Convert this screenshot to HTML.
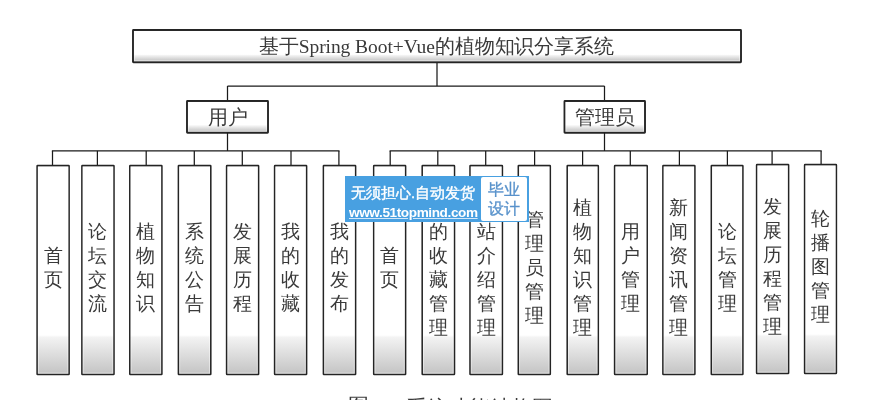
<!DOCTYPE html>
<html><head><meta charset="utf-8"><style>
html,body{margin:0;padding:0;background:#fff;width:875px;height:400px;overflow:hidden}
svg{position:absolute;left:0;top:0;will-change:transform}
.t{font-family:"Liberation Serif",serif;fill:#3a3a3a}
.wm{will-change:transform;position:absolute;left:345px;top:176.3px;width:183.5px;height:46px;background:#48a0e1}
.wm1{position:absolute;left:6px;top:6.5px;-webkit-text-stroke:0.4px #fff;color:#fff;font-family:"Liberation Sans",sans-serif;font-size:15px;font-weight:normal;white-space:nowrap;line-height:20px}
.wm2{position:absolute;left:4px;top:27.5px;text-underline-offset:1.2px;color:#fff;font-family:"Liberation Sans",sans-serif;font-size:13.6px;font-weight:bold;letter-spacing:-0.4px;text-decoration:underline;text-decoration-color:#d6e8f8;white-space:nowrap;line-height:18px}
.wmb{position:absolute;left:135.5px;top:1px;width:46px;height:44px;background:#fff;border-radius:2px;color:#5892cb;-webkit-text-stroke:0.3px #5892cb;font-family:"Liberation Sans",sans-serif;font-size:16px;line-height:19px;text-align:center;padding-top:3px;box-sizing:border-box}
</style></head><body>
<svg width="875" height="400" viewBox="0 0 875 400">
<defs><linearGradient id="g" x1="0" y1="0" x2="0" y2="1">
<stop offset="0" stop-color="#fff"/><stop offset="0.812" stop-color="#fff"/><stop offset="0.822" stop-color="#f3f3f3"/><stop offset="0.99" stop-color="#c6c6c6"/></linearGradient>
<linearGradient id="g2" x1="0" y1="0" x2="0" y2="1">
<stop offset="0" stop-color="#fff"/><stop offset="0.755" stop-color="#fff"/><stop offset="0.775" stop-color="#f6f6f6"/><stop offset="0.92" stop-color="#cecece"/><stop offset="1" stop-color="#cecece"/></linearGradient></defs>
<rect x="133" y="30" width="608.00" height="32.30" rx="0.5" fill="url(#g2)" stroke="#242424" stroke-width="1.9"/><rect x="134.45" y="31.45" width="605.10" height="29.40" fill="none" stroke="#fff" stroke-width="1" opacity="0.45"/>
<text x="436.5" y="52.6" font-size="19.5" letter-spacing="-0.07" text-anchor="middle" class="t">基于Spring Boot+Vue的植物知识分享系统</text>
<line x1="437" y1="63" x2="437" y2="86" stroke="#1a1a1a" stroke-width="1.25"/>
<line x1="227.5" y1="86" x2="604.5" y2="86" stroke="#1a1a1a" stroke-width="1.25"/>
<line x1="227.5" y1="86" x2="227.5" y2="101" stroke="#1a1a1a" stroke-width="1.25"/>
<line x1="604.5" y1="86" x2="604.5" y2="101" stroke="#1a1a1a" stroke-width="1.25"/>
<rect x="187" y="101" width="81.00" height="31.70" rx="0.5" fill="url(#g2)" stroke="#242424" stroke-width="1.9"/><rect x="188.45" y="102.45" width="78.10" height="28.80" fill="none" stroke="#fff" stroke-width="1" opacity="0.45"/>
<text x="227.5" y="123.6" font-size="19.5" text-anchor="middle" class="t">用户</text>
<rect x="564.5" y="101" width="80.50" height="31.70" rx="0.5" fill="url(#g2)" stroke="#242424" stroke-width="1.9"/><rect x="565.95" y="102.45" width="77.60" height="28.80" fill="none" stroke="#fff" stroke-width="1" opacity="0.45"/>
<text x="604.5" y="123.6" font-size="19.5" text-anchor="middle" class="t">管理员</text>
<line x1="227.5" y1="132.7" x2="227.5" y2="150.9" stroke="#1a1a1a" stroke-width="1.25"/>
<line x1="604.5" y1="132.7" x2="604.5" y2="150.9" stroke="#1a1a1a" stroke-width="1.25"/>
<line x1="51.875" y1="150.9" x2="339.525" y2="150.9" stroke="#1a1a1a" stroke-width="1.25"/>
<line x1="389.575" y1="150.9" x2="821.725" y2="150.9" stroke="#1a1a1a" stroke-width="1.25"/>
<line x1="52.5" y1="150.9" x2="52.5" y2="165.6" stroke="#1a1a1a" stroke-width="1.25"/>
<rect x="37.1" y="165.6" width="32.00" height="208.80" rx="0.5" fill="url(#g)" stroke="#242424" stroke-width="1.55"/><rect x="38.38" y="166.88" width="29.45" height="206.25" fill="none" stroke="#fff" stroke-width="1" opacity="0.45"/>
<text x="53.10" y="262.13" font-size="18.5" text-anchor="middle" class="t">首</text>
<text x="53.10" y="286.13" font-size="18.5" text-anchor="middle" class="t">页</text>
<line x1="97.4" y1="150.9" x2="97.4" y2="165.6" stroke="#1a1a1a" stroke-width="1.25"/>
<rect x="81.9" y="165.6" width="32.10" height="208.80" rx="0.5" fill="url(#g)" stroke="#242424" stroke-width="1.55"/><rect x="83.18" y="166.88" width="29.55" height="206.25" fill="none" stroke="#fff" stroke-width="1" opacity="0.45"/>
<text x="97.95" y="238.13" font-size="18.5" text-anchor="middle" class="t">论</text>
<text x="97.95" y="262.13" font-size="18.5" text-anchor="middle" class="t">坛</text>
<text x="97.95" y="286.13" font-size="18.5" text-anchor="middle" class="t">交</text>
<text x="97.95" y="310.13" font-size="18.5" text-anchor="middle" class="t">流</text>
<line x1="146.2" y1="150.9" x2="146.2" y2="165.6" stroke="#1a1a1a" stroke-width="1.25"/>
<rect x="129.8" y="165.6" width="32.10" height="208.80" rx="0.5" fill="url(#g)" stroke="#242424" stroke-width="1.55"/><rect x="131.08" y="166.88" width="29.55" height="206.25" fill="none" stroke="#fff" stroke-width="1" opacity="0.45"/>
<text x="145.85" y="238.13" font-size="18.5" text-anchor="middle" class="t">植</text>
<text x="145.85" y="262.13" font-size="18.5" text-anchor="middle" class="t">物</text>
<text x="145.85" y="286.13" font-size="18.5" text-anchor="middle" class="t">知</text>
<text x="145.85" y="310.13" font-size="18.5" text-anchor="middle" class="t">识</text>
<line x1="194.3" y1="150.9" x2="194.3" y2="165.6" stroke="#1a1a1a" stroke-width="1.25"/>
<rect x="178.4" y="165.6" width="32.40" height="208.80" rx="0.5" fill="url(#g)" stroke="#242424" stroke-width="1.55"/><rect x="179.68" y="166.88" width="29.85" height="206.25" fill="none" stroke="#fff" stroke-width="1" opacity="0.45"/>
<text x="194.60" y="238.13" font-size="18.5" text-anchor="middle" class="t">系</text>
<text x="194.60" y="262.13" font-size="18.5" text-anchor="middle" class="t">统</text>
<text x="194.60" y="286.13" font-size="18.5" text-anchor="middle" class="t">公</text>
<text x="194.60" y="310.13" font-size="18.5" text-anchor="middle" class="t">告</text>
<line x1="242.3" y1="150.9" x2="242.3" y2="165.6" stroke="#1a1a1a" stroke-width="1.25"/>
<rect x="226.6" y="165.6" width="32.00" height="208.80" rx="0.5" fill="url(#g)" stroke="#242424" stroke-width="1.55"/><rect x="227.88" y="166.88" width="29.45" height="206.25" fill="none" stroke="#fff" stroke-width="1" opacity="0.45"/>
<text x="242.60" y="238.13" font-size="18.5" text-anchor="middle" class="t">发</text>
<text x="242.60" y="262.13" font-size="18.5" text-anchor="middle" class="t">展</text>
<text x="242.60" y="286.13" font-size="18.5" text-anchor="middle" class="t">历</text>
<text x="242.60" y="310.13" font-size="18.5" text-anchor="middle" class="t">程</text>
<line x1="291.0" y1="150.9" x2="291.0" y2="165.6" stroke="#1a1a1a" stroke-width="1.25"/>
<rect x="274.6" y="165.6" width="32.00" height="208.80" rx="0.5" fill="url(#g)" stroke="#242424" stroke-width="1.55"/><rect x="275.88" y="166.88" width="29.45" height="206.25" fill="none" stroke="#fff" stroke-width="1" opacity="0.45"/>
<text x="290.60" y="238.13" font-size="18.5" text-anchor="middle" class="t">我</text>
<text x="290.60" y="262.13" font-size="18.5" text-anchor="middle" class="t">的</text>
<text x="290.60" y="286.13" font-size="18.5" text-anchor="middle" class="t">收</text>
<text x="290.60" y="310.13" font-size="18.5" text-anchor="middle" class="t">藏</text>
<line x1="338.9" y1="150.9" x2="338.9" y2="165.6" stroke="#1a1a1a" stroke-width="1.25"/>
<rect x="323.4" y="165.6" width="32.20" height="208.80" rx="0.5" fill="url(#g)" stroke="#242424" stroke-width="1.55"/><rect x="324.67" y="166.88" width="29.65" height="206.25" fill="none" stroke="#fff" stroke-width="1" opacity="0.45"/>
<text x="339.50" y="238.13" font-size="18.5" text-anchor="middle" class="t">我</text>
<text x="339.50" y="262.13" font-size="18.5" text-anchor="middle" class="t">的</text>
<text x="339.50" y="286.13" font-size="18.5" text-anchor="middle" class="t">发</text>
<text x="339.50" y="310.13" font-size="18.5" text-anchor="middle" class="t">布</text>
<line x1="390.2" y1="150.9" x2="390.2" y2="165.6" stroke="#1a1a1a" stroke-width="1.25"/>
<rect x="373.7" y="165.6" width="31.90" height="208.80" rx="0.5" fill="url(#g)" stroke="#242424" stroke-width="1.55"/><rect x="374.97" y="166.88" width="29.35" height="206.25" fill="none" stroke="#fff" stroke-width="1" opacity="0.45"/>
<text x="389.65" y="262.13" font-size="18.5" text-anchor="middle" class="t">首</text>
<text x="389.65" y="286.13" font-size="18.5" text-anchor="middle" class="t">页</text>
<line x1="437.8" y1="150.9" x2="437.8" y2="165.6" stroke="#1a1a1a" stroke-width="1.25"/>
<rect x="422.2" y="165.6" width="32.30" height="208.80" rx="0.5" fill="url(#g)" stroke="#242424" stroke-width="1.55"/><rect x="423.47" y="166.88" width="29.75" height="206.25" fill="none" stroke="#fff" stroke-width="1" opacity="0.45"/>
<text x="438.35" y="214.13" font-size="18.5" text-anchor="middle" class="t">我</text>
<text x="438.35" y="238.13" font-size="18.5" text-anchor="middle" class="t">的</text>
<text x="438.35" y="262.13" font-size="18.5" text-anchor="middle" class="t">收</text>
<text x="438.35" y="286.13" font-size="18.5" text-anchor="middle" class="t">藏</text>
<text x="438.35" y="310.13" font-size="18.5" text-anchor="middle" class="t">管</text>
<text x="438.35" y="334.13" font-size="18.5" text-anchor="middle" class="t">理</text>
<line x1="485.7" y1="150.9" x2="485.7" y2="165.6" stroke="#1a1a1a" stroke-width="1.25"/>
<rect x="470.0" y="165.6" width="32.40" height="208.80" rx="0.5" fill="url(#g)" stroke="#242424" stroke-width="1.55"/><rect x="471.27" y="166.88" width="29.85" height="206.25" fill="none" stroke="#fff" stroke-width="1" opacity="0.45"/>
<text x="486.20" y="214.13" font-size="18.5" text-anchor="middle" class="t">网</text>
<text x="486.20" y="238.13" font-size="18.5" text-anchor="middle" class="t">站</text>
<text x="486.20" y="262.13" font-size="18.5" text-anchor="middle" class="t">介</text>
<text x="486.20" y="286.13" font-size="18.5" text-anchor="middle" class="t">绍</text>
<text x="486.20" y="310.13" font-size="18.5" text-anchor="middle" class="t">管</text>
<text x="486.20" y="334.13" font-size="18.5" text-anchor="middle" class="t">理</text>
<line x1="534.6" y1="150.9" x2="534.6" y2="165.6" stroke="#1a1a1a" stroke-width="1.25"/>
<rect x="518.3" y="165.6" width="32.00" height="208.80" rx="0.5" fill="url(#g)" stroke="#242424" stroke-width="1.55"/><rect x="519.57" y="166.88" width="29.45" height="206.25" fill="none" stroke="#fff" stroke-width="1" opacity="0.45"/>
<text x="534.30" y="226.13" font-size="18.5" text-anchor="middle" class="t">管</text>
<text x="534.30" y="250.13" font-size="18.5" text-anchor="middle" class="t">理</text>
<text x="534.30" y="274.13" font-size="18.5" text-anchor="middle" class="t">员</text>
<text x="534.30" y="298.13" font-size="18.5" text-anchor="middle" class="t">管</text>
<text x="534.30" y="322.13" font-size="18.5" text-anchor="middle" class="t">理</text>
<line x1="582.6" y1="150.9" x2="582.6" y2="165.6" stroke="#1a1a1a" stroke-width="1.25"/>
<rect x="567.2" y="165.6" width="31.10" height="208.80" rx="0.5" fill="url(#g)" stroke="#242424" stroke-width="1.55"/><rect x="568.48" y="166.88" width="28.55" height="206.25" fill="none" stroke="#fff" stroke-width="1" opacity="0.45"/>
<text x="582.75" y="214.13" font-size="18.5" text-anchor="middle" class="t">植</text>
<text x="582.75" y="238.13" font-size="18.5" text-anchor="middle" class="t">物</text>
<text x="582.75" y="262.13" font-size="18.5" text-anchor="middle" class="t">知</text>
<text x="582.75" y="286.13" font-size="18.5" text-anchor="middle" class="t">识</text>
<text x="582.75" y="310.13" font-size="18.5" text-anchor="middle" class="t">管</text>
<text x="582.75" y="334.13" font-size="18.5" text-anchor="middle" class="t">理</text>
<line x1="630.3" y1="150.9" x2="630.3" y2="165.6" stroke="#1a1a1a" stroke-width="1.25"/>
<rect x="614.6" y="165.6" width="32.60" height="208.80" rx="0.5" fill="url(#g)" stroke="#242424" stroke-width="1.55"/><rect x="615.88" y="166.88" width="30.05" height="206.25" fill="none" stroke="#fff" stroke-width="1" opacity="0.45"/>
<text x="630.90" y="238.13" font-size="18.5" text-anchor="middle" class="t">用</text>
<text x="630.90" y="262.13" font-size="18.5" text-anchor="middle" class="t">户</text>
<text x="630.90" y="286.13" font-size="18.5" text-anchor="middle" class="t">管</text>
<text x="630.90" y="310.13" font-size="18.5" text-anchor="middle" class="t">理</text>
<line x1="679.4" y1="150.9" x2="679.4" y2="165.6" stroke="#1a1a1a" stroke-width="1.25"/>
<rect x="662.9" y="165.6" width="32.00" height="208.80" rx="0.5" fill="url(#g)" stroke="#242424" stroke-width="1.55"/><rect x="664.17" y="166.88" width="29.45" height="206.25" fill="none" stroke="#fff" stroke-width="1" opacity="0.45"/>
<text x="678.90" y="214.13" font-size="18.5" text-anchor="middle" class="t">新</text>
<text x="678.90" y="238.13" font-size="18.5" text-anchor="middle" class="t">闻</text>
<text x="678.90" y="262.13" font-size="18.5" text-anchor="middle" class="t">资</text>
<text x="678.90" y="286.13" font-size="18.5" text-anchor="middle" class="t">讯</text>
<text x="678.90" y="310.13" font-size="18.5" text-anchor="middle" class="t">管</text>
<text x="678.90" y="334.13" font-size="18.5" text-anchor="middle" class="t">理</text>
<line x1="727.4" y1="150.9" x2="727.4" y2="165.6" stroke="#1a1a1a" stroke-width="1.25"/>
<rect x="711.3" y="165.6" width="31.60" height="208.80" rx="0.5" fill="url(#g)" stroke="#242424" stroke-width="1.55"/><rect x="712.57" y="166.88" width="29.05" height="206.25" fill="none" stroke="#fff" stroke-width="1" opacity="0.45"/>
<text x="727.10" y="238.13" font-size="18.5" text-anchor="middle" class="t">论</text>
<text x="727.10" y="262.13" font-size="18.5" text-anchor="middle" class="t">坛</text>
<text x="727.10" y="286.13" font-size="18.5" text-anchor="middle" class="t">管</text>
<text x="727.10" y="310.13" font-size="18.5" text-anchor="middle" class="t">理</text>
<line x1="772.1" y1="150.9" x2="772.1" y2="164.6" stroke="#1a1a1a" stroke-width="1.25"/>
<rect x="756.6" y="164.6" width="32.00" height="208.80" rx="0.5" fill="url(#g)" stroke="#242424" stroke-width="1.55"/><rect x="757.88" y="165.88" width="29.45" height="206.25" fill="none" stroke="#fff" stroke-width="1" opacity="0.45"/>
<text x="772.60" y="213.13" font-size="18.5" text-anchor="middle" class="t">发</text>
<text x="772.60" y="237.13" font-size="18.5" text-anchor="middle" class="t">展</text>
<text x="772.60" y="261.13" font-size="18.5" text-anchor="middle" class="t">历</text>
<text x="772.60" y="285.13" font-size="18.5" text-anchor="middle" class="t">程</text>
<text x="772.60" y="309.13" font-size="18.5" text-anchor="middle" class="t">管</text>
<text x="772.60" y="333.13" font-size="18.5" text-anchor="middle" class="t">理</text>
<line x1="821.1" y1="150.9" x2="821.1" y2="164.6" stroke="#1a1a1a" stroke-width="1.25"/>
<rect x="804.6" y="164.6" width="31.80" height="208.80" rx="0.5" fill="url(#g)" stroke="#242424" stroke-width="1.55"/><rect x="805.88" y="165.88" width="29.25" height="206.25" fill="none" stroke="#fff" stroke-width="1" opacity="0.45"/>
<text x="820.50" y="225.13" font-size="18.5" text-anchor="middle" class="t">轮</text>
<text x="820.50" y="249.13" font-size="18.5" text-anchor="middle" class="t">播</text>
<text x="820.50" y="273.13" font-size="18.5" text-anchor="middle" class="t">图</text>
<text x="820.50" y="297.13" font-size="18.5" text-anchor="middle" class="t">管</text>
<text x="820.50" y="321.13" font-size="18.5" text-anchor="middle" class="t">理</text>
<text x="348.2" y="413" font-size="20.6" class="t">图</text>
<text x="406.3" y="414.5" font-size="20.6" class="t">系统功能结构图</text>
</svg>
<div class="wm"><div class="wm1">无须担心.自动发货</div><div class="wm2">www.51topmind.com</div><div class="wmb">毕业<br>设计</div></div>
</body></html>
